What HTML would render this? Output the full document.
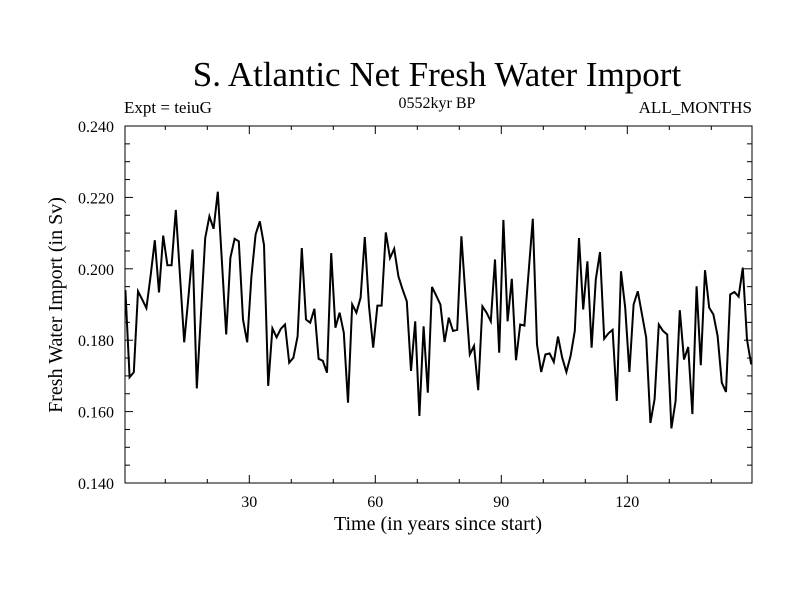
<!DOCTYPE html>
<html><head><meta charset="utf-8"><style>
html,body{margin:0;padding:0;background:#fff;}
svg{display:block;font-family:"Liberation Serif",serif;}
</style></head><body>
<svg id="chart" width="800" height="600" viewBox="0 0 800 600">
<rect width="800" height="600" fill="#fff"/>
<text x="437" y="86" font-size="35" text-anchor="middle">S. Atlantic Net Fresh Water Import</text>
<text x="124" y="113" font-size="17">Expt = teiuG</text>
<text x="437" y="108" font-size="16" text-anchor="middle">0552kyr BP</text>
<text x="752" y="113" font-size="17" text-anchor="end">ALL_MONTHS</text>
<text x="438" y="530" font-size="20" text-anchor="middle">Time (in years since start)</text>
<text transform="translate(62,305) rotate(-90)" font-size="20" text-anchor="middle">Fresh Water Import (in Sv)</text>
<g id="axes"></g>
<g id="series"></g>
<rect x="125" y="126" width="627" height="357" fill="none" stroke="#000" stroke-width="1"/>
</svg>
<script>
const values = [0.194,0.1696,0.171,0.1937,0.1914,0.189,0.198,0.208,0.1934,0.2093,0.201,0.201,0.2165,0.198,0.1794,0.192,0.2054,0.1665,0.1875,0.2086,0.2147,0.2112,0.2216,0.2016,0.1816,0.2031,0.2084,0.2077,0.1858,0.1794,0.1978,0.2096,0.2133,0.2067,0.1672,0.1833,0.1808,0.1832,0.1844,0.1737,0.1751,0.1811,0.2058,0.1858,0.1849,0.1888,0.1748,0.1742,0.1709,0.2044,0.1835,0.1877,0.1821,0.1625,0.19,0.1877,0.1919,0.2089,0.1895,0.1779,0.1897,0.1897,0.2102,0.203,0.2056,0.1979,0.1942,0.1909,0.1714,0.1853,0.1588,0.1839,0.1653,0.1949,0.1925,0.19,0.1795,0.1863,0.1826,0.1829,0.2091,0.1919,0.176,0.1784,0.166,0.1895,0.1877,0.1853,0.2026,0.1765,0.2137,0.1853,0.1972,0.1744,0.1844,0.1841,0.199,0.214,0.1788,0.1711,0.176,0.1763,0.1739,0.181,0.1751,0.1711,0.1756,0.1826,0.2086,0.1886,0.2021,0.1779,0.197,0.2047,0.1804,0.1819,0.1829,0.163,0.1993,0.1891,0.1711,0.19,0.1937,0.1872,0.1807,0.1568,0.1635,0.1844,0.1826,0.1816,0.1553,0.163,0.1884,0.1746,0.1781,0.1593,0.1951,0.173,0.1996,0.1891,0.1872,0.1812,0.1681,0.1655,0.1928,0.1935,0.1922,0.2003,0.1802,0.1732];
const xTicks = [30,60,90,120];
const yTicks = [0.140,0.160,0.180,0.200,0.220,0.240];
const yTickLabels = ["0.140","0.160","0.180","0.200","0.220","0.240"];
const NS = "http://www.w3.org/2000/svg";
function xs(t){ return 123.3 + t*4.2; }
function ys(v){ return 483 - (v-0.140)*3570; }
const axes = document.getElementById('axes');
function line(x1,y1,x2,y2,name){
  const l = document.createElementNS(NS,'line');
  l.setAttribute('x1',x1);l.setAttribute('y1',y1);l.setAttribute('x2',x2);l.setAttribute('y2',y2);
  l.setAttribute('stroke','#000');l.setAttribute('stroke-width','1');
  
  
  axes.appendChild(l);
}
function text(x,y,s,anchor,size,name){
  const t = document.createElementNS(NS,'text');
  t.setAttribute('x',x);t.setAttribute('y',y);t.setAttribute('font-size',size);t.setAttribute('text-anchor',anchor);
  t.textContent = s;
  
  
  axes.appendChild(t);
}
// x minor/major ticks
for(let t=10;t<150;t+=10){
  const major = t%30===0;
  const L = major?8:4;
  line(xs(t),483,xs(t),483-L,'x-tick');
  line(xs(t),126,xs(t),126+L,'x-tick-top');
}
xTicks.forEach(t=>text(xs(t),507,String(t),'middle',16,'x-tick-label'));
// y ticks
for(let k=0;k<=20;k++){
  const v = 0.140 + k*0.005;
  const major = k%4===0;
  const L = major?8:5;
  line(125,ys(v),125+L,ys(v),'y-tick');
  line(752,ys(v),752-L,ys(v),'y-tick-right');
}
yTicks.forEach((v,i)=>text(114,ys(v)+6,yTickLabels[i],'end',16,'y-tick-label'));
// series
const pts = values.map((v,i)=>xs(i+0.5).toFixed(1)+','+ys(v).toFixed(1)).join(' ');
const pl = document.createElementNS(NS,'polyline');
pl.setAttribute('points',pts);
pl.setAttribute('fill','none');pl.setAttribute('stroke','#000');pl.setAttribute('stroke-width','2');pl.setAttribute('stroke-linejoin','miter');


document.getElementById('series').appendChild(pl);
</script>
</body></html>
